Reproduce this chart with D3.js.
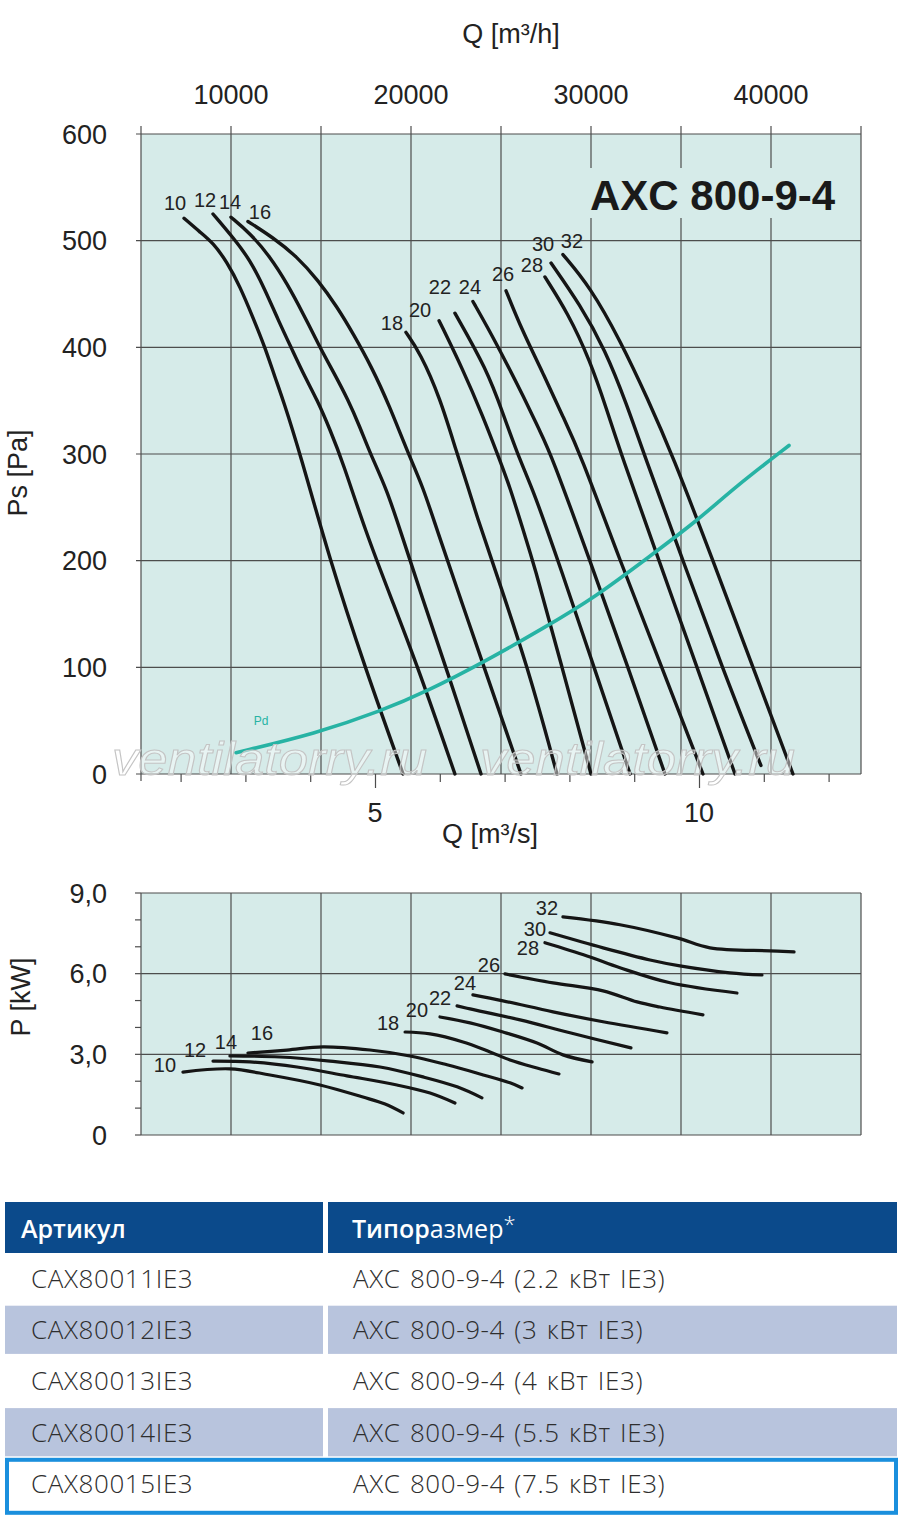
<!DOCTYPE html>
<html>
<head>
<meta charset="utf-8">
<script src="https://cdn.jsdelivr.net/npm/d3@7"></script>
<style>
  body { margin: 0; background: #fff; }
  svg { display: block; font-family: "Liberation Sans", Arial, sans-serif; }
</style>
</head>
<body>
<svg width="900" height="1517"></svg>
<script>
// ---- data ----
const bladeAngles = [10, 12, 14, 16, 18, 20, 22, 24, 26, 28, 30, 32];

// static pressure curves: [Q m3/h, Ps Pa]
const psCurves = [
  [[7390, 521], [8280, 508], [9000, 498], [9780, 480], [10500, 457], [11220, 428], [11890, 400], [12440, 372], [12890, 351], [13830, 301], [15500, 200], [17440, 100], [19560, 0]],
  [[9000, 525], [10110, 503], [11060, 482], [11890, 454], [12610, 426], [13390, 398], [14110, 372], [14780, 351], [15500, 323], [16220, 292], [17440, 229], [18940, 163], [20390, 100], [22440, 0]],
  [[10000, 522], [11060, 507], [12170, 485], [13110, 460], [14000, 432], [14940, 400], [15720, 376], [16500, 351], [17170, 325], [17720, 301], [18670, 266], [19390, 229], [20670, 163], [21940, 100], [23890, 0]],
  [[10940, 518], [12330, 503], [13670, 485], [14830, 463], [15890, 438], [16780, 413], [17830, 381], [18780, 346], [19830, 301], [20670, 269], [21440, 229], [22780, 163], [24060, 100], [26110, 0]],
  [[19720, 414], [20500, 395], [21610, 353], [22560, 300], [23170, 269], [23670, 241], [24500, 200], [26500, 100], [28110, 0]],
  [[21560, 425], [22890, 379], [24000, 335], [24780, 301], [25500, 269], [26220, 229], [26780, 200], [28390, 100], [30000, 0]],
  [[22440, 432], [24220, 379], [25110, 338], [25890, 301], [26780, 266], [27560, 229], [28170, 200], [30170, 100], [32170, 0]],
  [[23440, 443], [24280, 418], [25220, 388], [26220, 355], [27170, 321], [27780, 300], [29940, 200], [32060, 100], [34110, 0]],
  [[25280, 453], [26170, 416], [27330, 376], [28440, 335], [29390, 301], [31610, 200], [33940, 100], [36220, 0]],
  [[27440, 466], [28720, 432], [29940, 388], [30890, 341], [31670, 300], [33780, 200], [35890, 100], [38000, 0]],
  [[27780, 479], [29390, 440], [30780, 398], [32000, 346], [32940, 300], [35110, 200], [37280, 100], [39440, 8]],
  [[28440, 487], [29940, 457], [31610, 407], [33170, 351], [34500, 300], [36780, 200], [39000, 100], [41220, 0]]
];

// dynamic pressure curve: [Q m3/h, Pd Pa]
const pdCurve = [[10280, 20], [14720, 38], [18330, 59], [20940, 78], [24060, 105], [27390, 137], [30250, 166], [33330, 205], [35940, 238], [38000, 269], [41000, 308]];

// power curves: [Q m3/h, P kW]
const powerCurves = [
  [[7330, 2.34], [9940, 2.46], [12170, 2.23], [14940, 1.86], [17330, 1.41], [18560, 1.15], [19560, 0.82]],
  [[9000, 2.75], [11060, 2.72], [13670, 2.53], [16440, 2.20], [19220, 1.86], [21060, 1.56], [22440, 1.19]],
  [[9940, 2.94], [12720, 2.90], [15500, 2.75], [18280, 2.53], [20670, 2.16], [22560, 1.79], [23940, 1.38]],
  [[10940, 3.05], [13110, 3.16], [15110, 3.28], [17720, 3.16], [19940, 2.94], [22000, 2.61], [23830, 2.27], [25500, 1.94], [26170, 1.75]],
  [[19670, 3.83], [21060, 3.76], [22890, 3.46], [24390, 3.09], [25500, 2.79], [27000, 2.49], [28220, 2.27]],
  [[21610, 4.39], [23280, 4.17], [25110, 3.83], [27000, 3.42], [28440, 2.98], [30060, 2.72]],
  [[22560, 4.80], [23280, 4.69], [26060, 4.28], [28830, 3.80], [32220, 3.24]],
  [[23440, 5.21], [25110, 4.99], [27890, 4.58], [30670, 4.21], [34220, 3.80]],
  [[25220, 5.99], [27890, 5.66], [30670, 5.36], [32560, 4.95], [33830, 4.76], [36220, 4.47]],
  [[27440, 7.15], [29780, 6.66], [31610, 6.22], [34390, 5.66], [38110, 5.28]],
  [[27720, 7.52], [30670, 6.96], [33280, 6.51], [34940, 6.29], [37720, 6.03], [39500, 5.95]],
  [[28440, 8.11], [31610, 7.82], [34780, 7.33], [36610, 6.96], [39940, 6.85], [41280, 6.81]]
];

const qHourGrid = [5000, 10000, 15000, 20000, 25000, 30000, 35000, 40000, 45000];
const qHourLabels = [10000, 20000, 30000, 40000];
const qSecTicks = [2, 3, 4, 5, 6, 7, 8, 9, 10, 11, 12];
const qSecLabels = [5, 10];
const psTicks = [0, 100, 200, 300, 400, 500, 600];
const pMinorTicks = [0, 1, 2, 3, 4, 5, 6, 7, 8, 9];
const pTicks = [0, 3, 6, 9];
const pTickLabels = ["0", "3,0", "6,0", "9,0"];

const tableHeader = ["Артикул", "Типоразмер"];
const articles = ["CAX80011IE3", "CAX80012IE3", "CAX80013IE3", "CAX80014IE3", "CAX80015IE3"];
const sizes = ["AXC 800-9-4 (2.2 кВт IE3)", "AXC 800-9-4 (3 кВт IE3)", "AXC 800-9-4 (4 кВт IE3)", "AXC 800-9-4 (5.5 кВт IE3)", "AXC 800-9-4 (7.5 кВт IE3)"];

// label nudges (px) from each curve's first point
const psLabelNudge = [[-9, -15], [-8, -14], [-1, -15], [12, -10], [-14, -10], [-19, -11], [-15, -26], [-3, -15], [-3, -17], [-13, -12], [-8, -19], [9, -14]];
const pLabelNudge = [[-18, -7], [-18, -11], [-4, -14], [14, -20], [-17, -9], [-23, -7], [-17, -8], [-8, -12], [-16, -9], [-17, 5], [-15, -4], [-16, -9]];

// ---- setup ----
const svg = d3.select("svg");
const bg = "#d6ebe9";
const gridColor = "#4d4d4d";
const textColor = "#222";
const teal = "#27b3a4";

const x = d3.scaleLinear().domain([5000, 45000]).range([141, 861]);
const xSec = d3.scaleLinear().domain([5000 / 3600, 45000 / 3600]).range([141, 861]);
const yPs = d3.scaleLinear().domain([0, 600]).range([774, 134]);
const yP = d3.scaleLinear().domain([0, 9]).range([1135, 893]);

// ================= top chart =================
const gTop = svg.append("g");

gTop.append("rect")
  .attr("x", x(5000)).attr("y", yPs(600))
  .attr("width", x(45000) - x(5000)).attr("height", yPs(0) - yPs(600))
  .attr("fill", bg);

// grid
gTop.append("g").selectAll("line").data(qHourGrid).join("line")
  .attr("x1", d => x(d)).attr("x2", d => x(d))
  .attr("y1", yPs(600) - 8).attr("y2", yPs(0))
  .attr("stroke", gridColor).attr("stroke-width", 1.2);

gTop.append("g").selectAll("line").data(psTicks).join("line")
  .attr("x1", x(5000) - 5).attr("x2", x(45000))
  .attr("y1", d => yPs(d)).attr("y2", d => yPs(d))
  .attr("stroke", gridColor).attr("stroke-width", 1.2);

// left axis extends below
gTop.append("line")
  .attr("x1", x(5000)).attr("x2", x(5000))
  .attr("y1", yPs(0)).attr("y2", yPs(0) + 7)
  .attr("stroke", gridColor).attr("stroke-width", 1.2);

// bottom axis in m3/s
const axB = d3.axisBottom(xSec).tickValues(qSecTicks).tickSize(8).tickFormat("");
const gB = gTop.append("g").attr("transform", `translate(0,${yPs(0)})`).call(axB);
gB.select(".domain").remove();
gB.selectAll(".tick line")
  .attr("stroke", gridColor).attr("stroke-width", 1.2)
  .attr("y2", d => qSecLabels.includes(d) ? 14 : 8);

gTop.append("g").selectAll("text").data(qSecLabels).join("text")
  .attr("x", d => xSec(d)).attr("y", 822)
  .attr("text-anchor", "middle")
  .attr("font-size", 27).attr("fill", textColor)
  .text(d => d);

// top axis labels m3/h
gTop.append("g").selectAll("text").data(qHourLabels).join("text")
  .attr("x", d => x(d)).attr("y", 104)
  .attr("text-anchor", "middle")
  .attr("font-size", 27).attr("fill", textColor)
  .text(d => d);

// left axis labels
gTop.append("g").selectAll("text").data(psTicks).join("text")
  .attr("x", 107).attr("y", d => yPs(d)).attr("dy", "0.36em")
  .attr("text-anchor", "end")
  .attr("font-size", 27).attr("fill", textColor)
  .text(d => d);

// axis titles
svg.append("text").attr("x", 511).attr("y", 43)
  .attr("text-anchor", "middle").attr("font-size", 27).attr("fill", textColor)
  .text("Q [m³/h]");
svg.append("text").attr("x", 490).attr("y", 843)
  .attr("text-anchor", "middle").attr("font-size", 27).attr("fill", textColor)
  .text("Q [m³/s]");
svg.append("text").attr("transform", "translate(27,473) rotate(-90)")
  .attr("text-anchor", "middle").attr("font-size", 27).attr("fill", textColor)
  .text("Ps [Pa]");

// title box
gTop.append("rect").attr("x", 586).attr("y", 168).attr("width", 274).attr("height", 50).attr("fill", bg);
gTop.append("text").attr("x", 590).attr("y", 210)
  .attr("font-size", 42).attr("font-weight", "bold").attr("fill", "#1a1a1a")
  .text("AXC 800-9-4");

// curves (B-spline smooths the small reading errors)
const linePs = d3.line().x(d => x(d[0])).y(d => yPs(d[1])).curve(d3.curveBasis);

gTop.append("g").selectAll("path").data(psCurves).join("path")
  .attr("d", linePs)
  .attr("fill", "none").attr("stroke", "#151515").attr("stroke-width", 3.4)
  .attr("stroke-linecap", "round");

gTop.append("path").datum(pdCurve)
  .attr("d", linePs)
  .attr("fill", "none").attr("stroke", teal).attr("stroke-width", 3.6)
  .attr("stroke-linecap", "round");

gTop.append("text").attr("x", 261).attr("y", 725)
  .attr("text-anchor", "middle").attr("font-size", 12).attr("fill", teal)
  .text("Pd");

gTop.append("g").selectAll("text").data(psCurves).join("text")
  .attr("x", (d, i) => x(d[0][0]) + psLabelNudge[i][0])
  .attr("y", (d, i) => yPs(d[0][1]) + psLabelNudge[i][1])
  .attr("dy", "0.36em")
  .attr("text-anchor", "middle").attr("font-size", 20).attr("fill", textColor)
  .text((d, i) => bladeAngles[i]);

// watermark
gTop.append("g").selectAll("text").data([112, 480]).join("text")
  .attr("x", d => d).attr("y", 775)
  .attr("font-size", 46).attr("font-style", "italic")
  .attr("textLength", 315).attr("lengthAdjust", "spacingAndGlyphs")
  .attr("fill", "#ffffff").attr("fill-opacity", 0.45)
  .attr("stroke", "#c4c4c4").attr("stroke-width", 1)
  .text("ventilatorry.ru");

// ================= power chart =================
const gBot = svg.append("g");

gBot.append("rect")
  .attr("x", x(5000)).attr("y", yP(9))
  .attr("width", x(45000) - x(5000)).attr("height", yP(0) - yP(9))
  .attr("fill", bg);

gBot.append("g").selectAll("line").data(qHourGrid).join("line")
  .attr("x1", d => x(d)).attr("x2", d => x(d))
  .attr("y1", yP(9)).attr("y2", yP(0))
  .attr("stroke", gridColor).attr("stroke-width", 1.2);

gBot.append("g").selectAll("line").data(pTicks).join("line")
  .attr("x1", x(5000)).attr("x2", x(45000))
  .attr("y1", d => yP(d)).attr("y2", d => yP(d))
  .attr("stroke", gridColor).attr("stroke-width", 1.2);

gBot.append("g").selectAll("line").data(pMinorTicks).join("line")
  .attr("x1", x(5000) - 6).attr("x2", x(5000))
  .attr("y1", d => yP(d)).attr("y2", d => yP(d))
  .attr("stroke", gridColor).attr("stroke-width", 1.2);

gBot.append("g").selectAll("text").data(pTicks).join("text")
  .attr("x", 107).attr("y", d => yP(d)).attr("dy", "0.36em")
  .attr("text-anchor", "end")
  .attr("font-size", 27).attr("fill", textColor)
  .text((d, i) => pTickLabels[i]);

svg.append("text").attr("transform", "translate(30,997) rotate(-90)")
  .attr("text-anchor", "middle").attr("font-size", 27).attr("fill", textColor)
  .text("P [kW]");

const lineP = d3.line().x(d => x(d[0])).y(d => yP(d[1])).curve(d3.curveCatmullRom.alpha(0.5));

gBot.append("g").selectAll("path").data(powerCurves).join("path")
  .attr("d", lineP)
  .attr("fill", "none").attr("stroke", "#151515").attr("stroke-width", 3.2)
  .attr("stroke-linecap", "round");

gBot.append("g").selectAll("text").data(powerCurves).join("text")
  .attr("x", (d, i) => x(d[0][0]) + pLabelNudge[i][0])
  .attr("y", (d, i) => yP(d[0][1]) + pLabelNudge[i][1])
  .attr("dy", "0.36em")
  .attr("text-anchor", "middle").attr("font-size", 20).attr("fill", textColor)
  .text((d, i) => bladeAngles[i]);

// ================= table =================
const tbl = svg.append("g").attr("font-family", "'Open Sans', 'Noto Sans', sans-serif");
const col1 = { x: 5, w: 318 };
const col2 = { x: 328, w: 569 };
const rowTop = 1253, rowH = 51.2;

[col1, col2].forEach(c => {
  tbl.append("rect").attr("x", c.x).attr("y", 1202).attr("width", c.w).attr("height", 51).attr("fill", "#0b4a8b");
});

tbl.append("text").attr("x", 21).attr("y", 1238)
  .attr("font-size", 25).attr("font-weight", 600).attr("fill", "#fff")
  .text(tableHeader[0]);
const h2 = tbl.append("text").attr("x", 352).attr("y", 1238)
  .attr("font-size", 25).attr("fill", "#fff");
h2.append("tspan").attr("font-weight", 600).text(tableHeader[1].slice(0, 5));
h2.append("tspan").attr("font-weight", 400).text(tableHeader[1].slice(5));
h2.append("tspan").attr("font-weight", 300).attr("dy", -6).attr("font-size", 22).text("*");

articles.forEach((a, i) => {
  const y0 = rowTop + i * rowH;
  if (i % 2 === 1) {
    [col1, col2].forEach(c => {
      tbl.append("rect").attr("x", c.x).attr("y", y0 + 1.5).attr("width", c.w).attr("height", rowH - 3).attr("fill", "#b8c4dd");
    });
  }
  tbl.append("text").attr("x", 31).attr("y", y0 + 35)
    .attr("font-size", 26).attr("font-weight", 300).attr("letter-spacing", 0.6)
    .attr("fill", "#2e2e2e").text(a);
  tbl.append("text").attr("x", 353).attr("y", y0 + 35)
    .attr("font-size", 26).attr("font-weight", 300).attr("letter-spacing", 0.6)
    .attr("word-spacing", 2)
    .attr("fill", "#2e2e2e").text(sizes[i]);
});

tbl.append("rect")
  .attr("x", 7).attr("y", rowTop + 4 * rowH + 2)
  .attr("width", 889).attr("height", 53)
  .attr("fill", "none").attr("stroke", "#1a8fdd").attr("stroke-width", 4);
</script>
</body>
</html>
